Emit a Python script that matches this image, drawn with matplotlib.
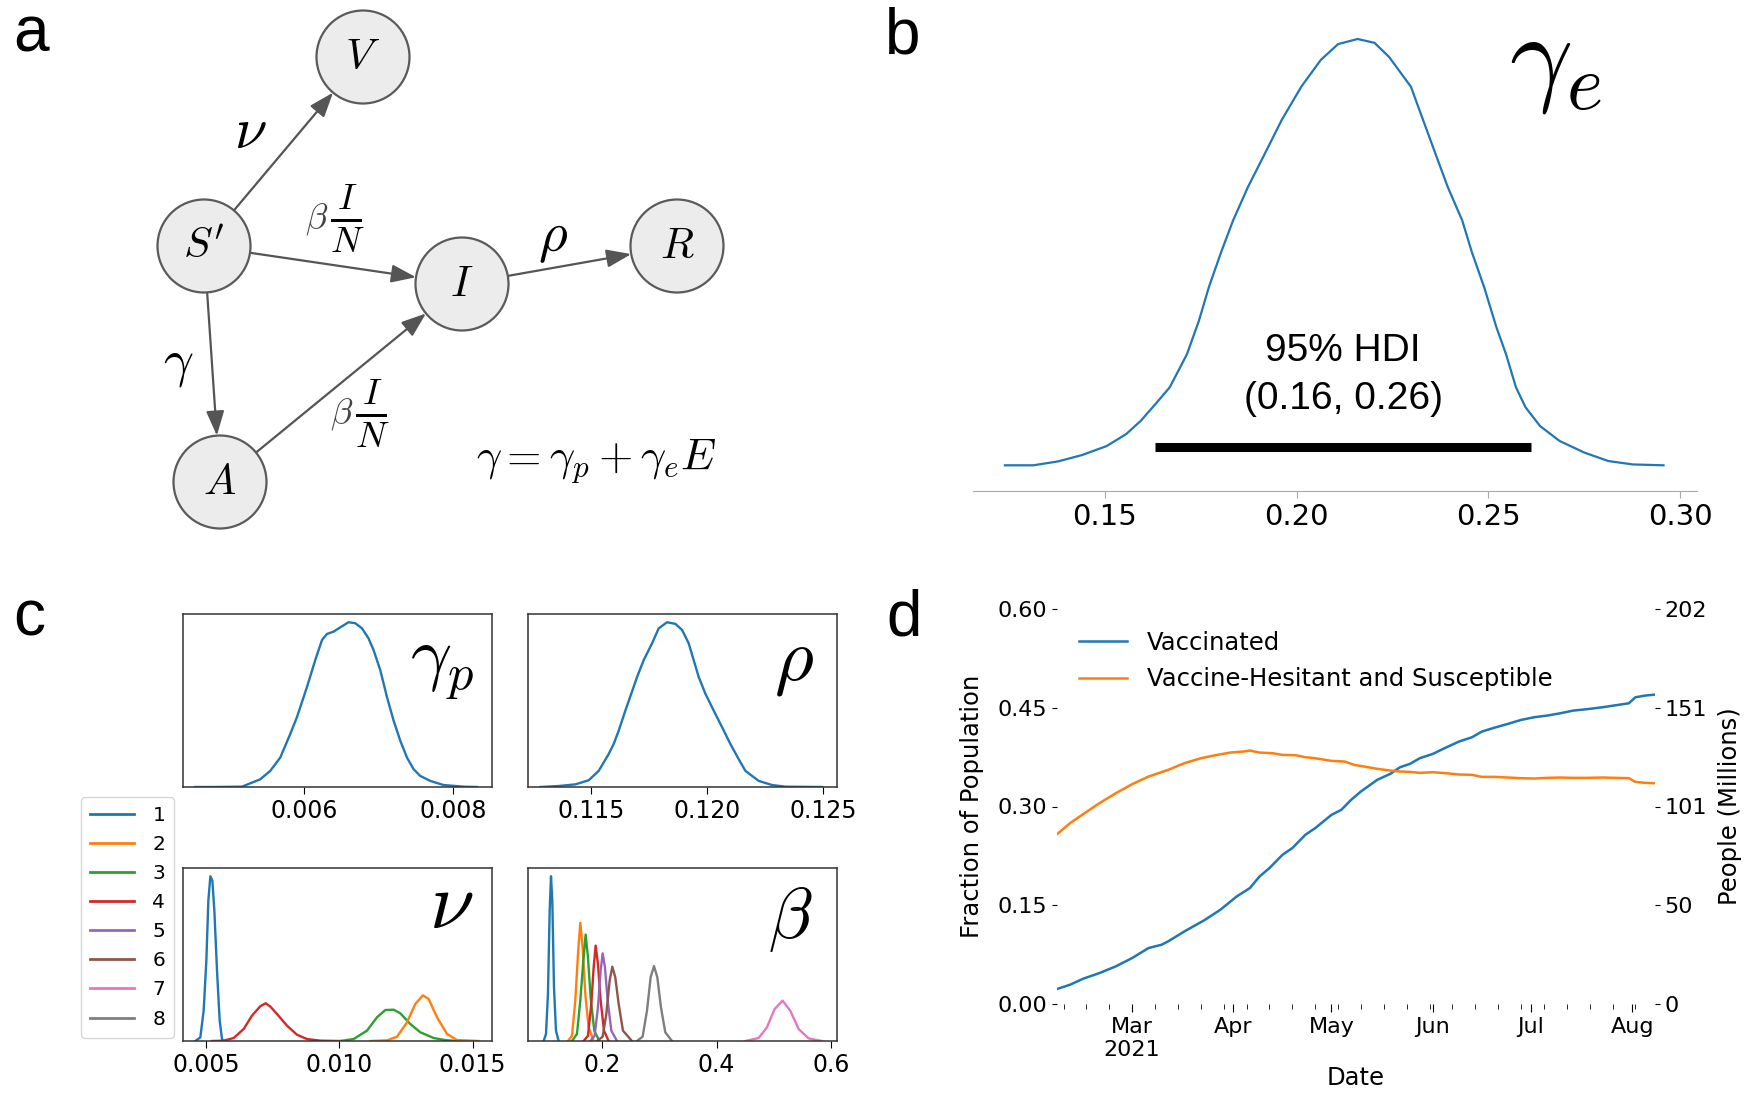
import numpy as np
import pandas as pd
import matplotlib
matplotlib.use("Agg")
import matplotlib.pyplot as plt
import matplotlib.dates as mdates
from matplotlib.patches import Circle, FancyArrowPatch
from matplotlib.lines import Line2D
from matplotlib.ticker import FuncFormatter

plt.rcParams['font.family'] = 'DejaVu Sans'
plt.rcParams['mathtext.fontset'] = 'cm'

# ---------------- data ----------------
# panel a: compartment model
node_names = ['V', "S'", 'I', 'R', 'A']
edges = [("S'", 'V'), ("S'", 'I'), ('I', 'R'), ("S'", 'A'), ('A', 'I')]

# panel b: posterior density of gamma_e (relative height)
gamma_e_x = [0.1239, 0.1313, 0.1377, 0.1440, 0.1504, 0.1555, 0.1593, 0.1631, 0.1669,
             0.1714, 0.1745, 0.1771, 0.1803, 0.1834, 0.1873, 0.1917, 0.1961, 0.2012,
             0.2063, 0.2108, 0.2159, 0.2203, 0.2241, 0.2298, 0.2362, 0.2394, 0.2432,
             0.2457, 0.2489, 0.2521, 0.2546, 0.2572, 0.2597, 0.2635, 0.2686, 0.2750,
             0.2813, 0.2877, 0.2957]
gamma_e_y = [0.0, 0.0, 0.009, 0.024, 0.045, 0.073, 0.104, 0.143, 0.183,
             0.261, 0.339, 0.418, 0.500, 0.574, 0.653, 0.731, 0.810, 0.888,
             0.951, 0.988, 1.000, 0.991, 0.958, 0.888, 0.731, 0.653, 0.574,
             0.500, 0.418, 0.324, 0.261, 0.183, 0.136, 0.092, 0.057, 0.030,
             0.010, 0.002, 0.0]
gamma_e_hdi = [0.1631, 0.2612]

# panel c: posterior densities
gamma_p_x = [0.004533, 0.004780, 0.005162, 0.005408, 0.005542, 0.005677, 0.005811,
             0.005901, 0.006036, 0.006147, 0.006238, 0.006305, 0.006394, 0.006484,
             0.006595, 0.006685, 0.006776, 0.006864, 0.006932, 0.007022, 0.007112,
             0.007201, 0.007291, 0.007381, 0.007470, 0.007560, 0.007694, 0.007873,
             0.008142, 0.008322]
gamma_p_y = [0.0, 0.0, 0.002, 0.047, 0.098, 0.179, 0.322, 0.424, 0.607, 0.770, 0.892,
             0.929, 0.943, 0.969, 1.0, 0.994, 0.963, 0.902, 0.831, 0.709, 0.546, 0.403,
             0.281, 0.179, 0.108, 0.067, 0.037, 0.012, 0.002, 0.0]

rho_x = [0.112815, 0.113604, 0.114323, 0.114897, 0.115328, 0.115759, 0.115974,
         0.116190, 0.116478, 0.116983, 0.117267, 0.117629, 0.117914, 0.118276,
         0.118633, 0.118922, 0.119207, 0.119638, 0.119927, 0.120284, 0.120646,
         0.121004, 0.121362, 0.121651, 0.122224, 0.122802, 0.123375, 0.124956]
rho_y = [0.0, 0.006, 0.016, 0.041, 0.098, 0.200, 0.261, 0.342, 0.464, 0.668, 0.770,
         0.872, 0.963, 1.0, 0.990, 0.953, 0.872, 0.668, 0.566, 0.464, 0.363, 0.261,
         0.169, 0.098, 0.037, 0.012, 0.002, 0.0]

nu_series = [1, 4, 3, 2]
nu_x = [
    [0.00460, 0.004787, 0.004912, 0.005013, 0.005088, 0.005163, 0.005238, 0.005313,
     0.005413, 0.005513, 0.005600, 0.005663],
    [0.005225, 0.005663, 0.006038, 0.006413, 0.006725, 0.007038, 0.007238, 0.007413,
     0.007663, 0.008038, 0.008413, 0.008788, 0.009288, 0.010038],
    [0.010039, 0.010539, 0.011039, 0.011414, 0.011727, 0.012039, 0.012289, 0.012664,
     0.013039, 0.013539, 0.014039, 0.014539],
    [0.011164, 0.011789, 0.012164, 0.012539, 0.012852, 0.013139, 0.013352, 0.013664,
     0.014039, 0.014414, 0.015227],
]
nu_y = [
    [0.0, 0.022, 0.184, 0.488, 0.852, 1.0, 0.974, 0.792, 0.427, 0.123, 0.012, 0.0],
    [0.0, 0.002, 0.018, 0.073, 0.154, 0.211, 0.229, 0.209, 0.164, 0.093, 0.038, 0.012,
     0.002, 0.0],
    [0.0, 0.012, 0.063, 0.144, 0.188, 0.190, 0.168, 0.103, 0.053, 0.018, 0.004, 0.0],
    [0.0, 0.004, 0.026, 0.113, 0.225, 0.277, 0.255, 0.144, 0.043, 0.006, 0.0],
]

beta_series = [1, 2, 3, 4, 5, 6, 8, 7]
beta_x = [
    [0.0983, 0.1024, 0.1058, 0.1088, 0.1111, 0.1134, 0.1163, 0.1198, 0.1244],
    [0.1407, 0.1477, 0.1535, 0.1582, 0.1622, 0.1663, 0.1709, 0.1768, 0.1855],
    [0.1477, 0.1564, 0.1622, 0.1675, 0.1715, 0.1756, 0.1802, 0.1866, 0.1954],
    [0.1680, 0.1756, 0.1814, 0.1855, 0.1890, 0.1930, 0.1977, 0.2035, 0.2116],
    [0.1797, 0.1872, 0.1930, 0.1977, 0.2012, 0.2052, 0.2099, 0.2163, 0.2262],
    [0.1913, 0.2012, 0.2076, 0.2134, 0.2180, 0.2232, 0.2291, 0.2366, 0.2523],
    [0.2610, 0.2709, 0.2785, 0.2849, 0.2907, 0.2965, 0.3029, 0.3104, 0.3221],
    [0.4499, 0.4732, 0.4877, 0.5011, 0.5150, 0.5284, 0.5429, 0.5603, 0.5836],
]
beta_y = [
    [0.0, 0.043, 0.285, 0.791, 1.0, 0.852, 0.326, 0.063, 0.0],
    [0.0, 0.032, 0.245, 0.528, 0.717, 0.569, 0.285, 0.083, 0.0],
    [0.0, 0.043, 0.245, 0.488, 0.646, 0.508, 0.265, 0.063, 0.0],
    [0.0, 0.032, 0.225, 0.447, 0.579, 0.468, 0.245, 0.063, 0.0],
    [0.0, 0.032, 0.204, 0.427, 0.532, 0.447, 0.245, 0.063, 0.0],
    [0.0, 0.026, 0.164, 0.366, 0.451, 0.387, 0.225, 0.063, 0.0],
    [0.0, 0.026, 0.184, 0.387, 0.455, 0.387, 0.204, 0.053, 0.0],
    [0.0, 0.018, 0.083, 0.194, 0.245, 0.184, 0.073, 0.016, 0.0],
]

# panel d: population fractions
vacc_dates = ['2021-02-06', '2021-02-10', '2021-02-14', '2021-02-19', '2021-02-24',
              '2021-03-01', '2021-03-06', '2021-03-10', '2021-03-12', '2021-03-17',
              '2021-03-23', '2021-03-28', '2021-04-02', '2021-04-06', '2021-04-09',
              '2021-04-12', '2021-04-16', '2021-04-19', '2021-04-23', '2021-04-26',
              '2021-05-01', '2021-05-04', '2021-05-07', '2021-05-10', '2021-05-15',
              '2021-05-19', '2021-05-22', '2021-05-25', '2021-05-28', '2021-06-01',
              '2021-06-05', '2021-06-09', '2021-06-13', '2021-06-16', '2021-06-20',
              '2021-06-24', '2021-06-28', '2021-07-02', '2021-07-06', '2021-07-10',
              '2021-07-14', '2021-07-18', '2021-07-23', '2021-07-27', '2021-07-31',
              '2021-08-02', '2021-08-05', '2021-08-08']
vacc_vals = [0.0228, 0.0293, 0.0384, 0.0470, 0.0572, 0.0698, 0.0850, 0.0900, 0.0951,
             0.1103, 0.1270, 0.1432, 0.1634, 0.1760, 0.1938, 0.2064, 0.2266, 0.2368,
             0.2570, 0.2671, 0.2873, 0.2949, 0.3101, 0.3228, 0.3405, 0.3496, 0.3597,
             0.3647, 0.3733, 0.3799, 0.3895, 0.3986, 0.4052, 0.4138, 0.4199, 0.4255,
             0.4315, 0.4356, 0.4381, 0.4416, 0.4457, 0.4477, 0.4508, 0.4538, 0.4568,
             0.4659, 0.4685, 0.4700]
hes_dates = ['2021-02-06', '2021-02-10', '2021-02-14', '2021-02-19', '2021-02-24',
             '2021-03-01', '2021-03-06', '2021-03-12', '2021-03-17', '2021-03-22',
             '2021-03-27', '2021-03-31', '2021-04-04', '2021-04-06', '2021-04-09',
             '2021-04-13', '2021-04-16', '2021-04-20', '2021-04-23', '2021-04-26',
             '2021-05-01', '2021-05-05', '2021-05-08', '2021-05-11', '2021-05-15',
             '2021-05-19', '2021-05-22', '2021-05-25', '2021-05-28', '2021-06-01',
             '2021-06-05', '2021-06-09', '2021-06-13', '2021-06-16', '2021-06-20',
             '2021-06-24', '2021-06-28', '2021-07-02', '2021-07-06', '2021-07-10',
             '2021-07-14', '2021-07-18', '2021-07-23', '2021-07-27', '2021-07-31',
             '2021-08-02', '2021-08-05', '2021-08-08']
hes_vals = [0.2580, 0.2747, 0.2884, 0.3051, 0.3202, 0.3339, 0.3455, 0.3556, 0.3658,
            0.3733, 0.3784, 0.3819, 0.3835, 0.3850, 0.3819, 0.3809, 0.3784, 0.3779,
            0.3749, 0.3733, 0.3693, 0.3683, 0.3632, 0.3607, 0.3572, 0.3546, 0.3531,
            0.3526, 0.3511, 0.3521, 0.3506, 0.3486, 0.3481, 0.3450, 0.3450, 0.3440,
            0.3430, 0.3425, 0.3435, 0.3440, 0.3435, 0.3435, 0.3440, 0.3435, 0.3430,
            0.3374, 0.3359, 0.3354]
frac_ticks = [0.0, 0.15, 0.30, 0.45, 0.60]
people_max = 202

# ---------------- figure ----------------
W, H = 1754, 1104
fig = plt.figure(figsize=(W / 100, H / 100), dpi=100)
colors = plt.rcParams['axes.prop_cycle'].by_key()['color']


def box(x0, y0, x1, y1):
    # pixel box (origin top-left) -> figure rect
    return [x0 / W, 1 - y1 / H, (x1 - x0) / W, (y1 - y0) / H]


def ftext(x, y, s, **kw):
    fig.text(x / W, 1 - y / H, s, **kw)


# panel letters
for letter, (lx, ly) in zip('abcd', [(13, 52), (885, 54), (13, 635), (886, 636)]):
    ftext(lx, ly, letter, fontsize=46, family='Liberation Sans', va='baseline')

# ---- panel a ----
axa = fig.add_axes(box(0, 0, 760, 540))
axa.set_xlim(0, 760)
axa.set_ylim(540, 0)
axa.axis('off')
node_pos = {'V': (363, 57), "S'": (204, 246), 'I': (462, 284), 'R': (677, 246), 'A': (220, 482)}
r_node = 46.5
for a, b in edges:
    p, q = np.array(node_pos[a], float), np.array(node_pos[b], float)
    u = (q - p) / np.linalg.norm(q - p)
    arr = FancyArrowPatch(p + u * r_node, q - u * r_node,
                          arrowstyle='-|>,head_length=15,head_width=5.5',
                          mutation_scale=1, color='#555555', lw=1.6,
                          shrinkA=0, shrinkB=0, zorder=1)
    axa.add_patch(arr)
for n in node_names:
    axa.add_patch(Circle(node_pos[n], r_node, facecolor='#ececec',
                         edgecolor='#5a5a5a', lw=1.6, zorder=2))
    axa.text(*node_pos[n], '$' + n + '$', fontsize=31, ha='center', va='center', zorder=3)
axa.text(250, 132, r'$\nu$', fontsize=42, ha='center', va='center')
axa.text(553, 238, r'$\rho$', fontsize=40, ha='center', va='center')
axa.text(178, 363, r'$\gamma$', fontsize=38, ha='center', va='center')
# beta * I/N labels: beta small, fraction full size
for bx, by in [(317, 219), (342, 414)]:
    axa.text(bx, by, r'$\beta$', fontsize=26, color='#444444', ha='center', va='center')
    axa.text(bx + 30, by, r'$\frac{I}{N}$', fontsize=38, ha='center', va='center')
axa.text(596, 462, r'$\gamma = \gamma_p + \gamma_e E$', fontsize=32, ha='center', va='center')

# ---- panel b ----
axb = fig.add_axes(box(973, 30, 1697, 491))
axb.plot(gamma_e_x, gamma_e_y, color=colors[0], lw=1.6)
hdi_h = 0.043
axb.plot(gamma_e_hdi, [hdi_h, hdi_h], color='k', lw=6.5, solid_capstyle='butt')
hdi_mid = sum(gamma_e_hdi) / 2
axb.text(hdi_mid, 0.269, '95% HDI', fontsize=28, family='Liberation Sans',
         ha='center', va='center')
axb.text(hdi_mid, 0.155, f'({gamma_e_hdi[0]:.2f}, {gamma_e_hdi[1]:.2f})', fontsize=28,
         family='Liberation Sans', ha='center', va='center')
axb.set_xlim(0.11557, 0.30443)
axb.set_ylim(-0.0603, 1.0211)
for s in ['left', 'right', 'top']:
    axb.spines[s].set_visible(False)
axb.spines['bottom'].set_color('#a8a8a8')
axb.set_yticks([])
axb.set_xticks([0.15, 0.20, 0.25, 0.30])
axb.set_xticklabels(['0.15', '0.20', '0.25', '0.30'])
axb.tick_params(axis='x', colors='#a8a8a8', labelcolor='k', labelsize=21, length=5)
ftext(1555, 62, r'$\gamma_e$', fontsize=80, ha='center', va='center')

# ---- panel c ----
def kde_panel(rect, xs, ys, cols, xlim, xticks, xlabels, sym, sym_xy, sym_size):
    ax = fig.add_axes(box(*rect))
    for x, y, c in zip(xs, ys, cols):
        ax.plot(x, y, color=c, lw=1.7)
    ax.set_xlim(*xlim)
    ax.set_ylim(0, 1.05)
    ax.set_yticks([])
    ax.set_xticks(xticks)
    ax.set_xticklabels(xlabels)
    ax.tick_params(axis='x', labelsize=17, length=5)
    for s in ax.spines.values():
        s.set_color('#333333')
        s.set_linewidth(1.1)
    ftext(sym_xy[0], sym_xy[1], sym, fontsize=sym_size, ha='center', va='center')
    return ax


kde_panel((183, 614, 492, 787), [gamma_p_x], [gamma_p_y], [colors[0]],
          (0.004368, 0.008525), [0.006, 0.008], ['0.006', '0.008'],
          r'$\gamma_p$', (442, 667), 52)
kde_panel((528, 614, 837, 787), [rho_x], [rho_y], [colors[0]],
          (0.11228, 0.1256), [0.115, 0.120, 0.125], ['0.115', '0.120', '0.125'],
          r'$\rho$', (794, 661), 54)
kde_panel((183, 868, 492, 1041), nu_x, nu_y, [colors[k - 1] for k in nu_series],
          (0.004137, 0.015728), [0.005, 0.010, 0.015], ['0.005', '0.010', '0.015'],
          r'$\nu$', (451, 906), 58)
kde_panel((528, 868, 837, 1041), beta_x, beta_y, [colors[k - 1] for k in beta_series],
          (0.0710, 0.6099), [0.2, 0.4, 0.6], ['0.2', '0.4', '0.6'],
          r'$\beta$', (790, 919), 52)

handles = [Line2D([], [], color=colors[i], lw=2) for i in range(8)]
fig.legend(handles, [str(i + 1) for i in range(8)], loc='upper left',
           bbox_to_anchor=(81 / W, 1 - 797 / H), borderaxespad=0, fontsize=14.5,
           handlelength=2.2, labelspacing=0.5, handletextpad=0.9, borderpad=0.45)

# ---- panel d ----
axd = fig.add_axes(box(1057, 609, 1655, 1004))
vd = pd.to_datetime(vacc_dates)
hd = pd.to_datetime(hes_dates)
axd.plot(vd, vacc_vals, color=colors[0], lw=1.8, label='Vaccinated')
axd.plot(hd, hes_vals, color=colors[1], lw=1.8, label='Vaccine-Hesitant and Susceptible')
axd.set_xlim(vd[0], vd[-1])
axd.set_ylim(frac_ticks[0], frac_ticks[-1])
axd.set_yticks(frac_ticks)
axd.set_yticklabels([f'{v:.2f}' for v in frac_ticks])
axd.xaxis.set_major_locator(mdates.MonthLocator())
axd.xaxis.set_minor_locator(mdates.WeekdayLocator(byweekday=mdates.MO))


def month_fmt(x, pos):
    d = mdates.num2date(x)
    s = d.strftime('%b')
    return s + '\n2021' if d.month == 3 else s


axd.xaxis.set_major_formatter(FuncFormatter(month_fmt))
axd.tick_params(axis='both', labelsize=16)
axd.tick_params(axis='x', which='major', length=6)
axd.tick_params(axis='x', which='minor', length=3.5)
axd.set_xlabel('Date', fontsize=17.5)
axd.set_ylabel('Fraction of Population', fontsize=17.5, labelpad=10)
axd.legend(loc='upper left', frameon=False, fontsize=17.5)
for s in axd.spines.values():
    s.set_visible(False)

axd2 = axd.twinx()
axd2.set_ylim(0, people_max)
ppl_ticks = np.linspace(0, people_max, len(frac_ticks))
axd2.set_yticks(ppl_ticks)
axd2.set_yticklabels([str(int(t)) for t in ppl_ticks])
axd2.tick_params(axis='y', labelsize=16)
axd2.set_ylabel('People (Millions)', fontsize=17.5, labelpad=8)
for s in axd2.spines.values():
    s.set_visible(False)

fig.savefig('out.png', dpi=100)
